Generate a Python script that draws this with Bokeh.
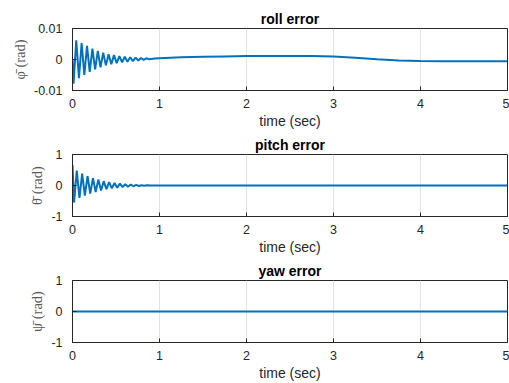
from bokeh.plotting import figure
from bokeh.layouts import column
from bokeh.models import FixedTicker, Range1d
from bokeh.embed import file_html
from bokeh.resources import INLINE

# ---- data ----
roll_t = [0.0, 0.012, 0.043, 0.074, 0.105, 0.136, 0.167, 0.198, 0.229, 0.260, 0.291,
          0.322, 0.353, 0.384, 0.415, 0.446, 0.477, 0.508, 0.539, 0.570, 0.601,
          0.632, 0.663, 0.694, 0.725, 0.756, 0.787, 0.818, 0.849, 0.880,
          0.95, 1.0, 1.25, 1.5, 1.75, 2.0, 2.25, 2.5, 2.75, 3.0, 3.25, 3.5,
          3.75, 4.0, 4.25, 4.5, 4.75, 5.0]
roll_v = [0.0, -0.0078, 0.0062, -0.0060, 0.0053, -0.0050, 0.0044, -0.0040, 0.0035,
          -0.0032, 0.0028, -0.0025, 0.0022, -0.0019, 0.0017, -0.0015, 0.0014,
          -0.0012, 0.0011, -0.0009, 0.0009, -0.0007, 0.0007, -0.0005, 0.0006,
          -0.0003, 0.0005, -0.0001, 0.0004, 0.0001,
          0.0003, 0.0004, 0.0007, 0.0009, 0.0010, 0.0011, 0.00115, 0.0011,
          0.0011, 0.0010, 0.0006, 0.0001, -0.0003, -0.0005, -0.00058,
          -0.0006, -0.0006, -0.0006]

pitch_t = [0.0, 0.018, 0.049, 0.080, 0.111, 0.142, 0.173, 0.204, 0.235, 0.266,
           0.297, 0.328, 0.359, 0.390, 0.421, 0.452, 0.483, 0.514, 0.545, 0.576,
           0.607, 0.638, 0.669, 0.700, 0.731, 0.762, 0.793, 0.824, 0.855, 0.90,
           5.0]
pitch_v = [0.66, -0.55, 0.48, -0.40, 0.38, -0.33, 0.30, -0.26, 0.24, -0.21, 0.19,
           -0.16, 0.14, -0.12, 0.11, -0.09, 0.08, -0.07, 0.06, -0.05, 0.045,
           -0.04, 0.03, -0.025, 0.02, -0.015, 0.01, -0.008, 0.005, 0.0, 0.0]

yaw_t = [0.0, 5.0]
yaw_v = [0.0, 0.0]

x_ticks = [0, 1, 2, 3, 4, 5]
titles = ["roll error", "pitch error", "yaw error"]
ylabels = ["\u03c6\u0304 (rad)", "\u03b8\u0304 (rad)", "\u03c8\u0304 (rad)"]
y_limits = [(-0.01, 0.01), (-1, 1), (-1, 1)]
y_tick_labels = [["-0.01", "0", "0.01"], ["-1", "0", "1"], ["-1", "0", "1"]]
series = [(roll_t, roll_v), (pitch_t, pitch_v), (yaw_t, yaw_v)]

LINE = "#0072BD"
AX = "#262626"
FONT = "Liberation Sans"

# (top border, bottom border) per panel; frame is 62 px tall
borders = [(28, 42), (22, 42), (22, 41)]


def make_panel(i):
    lo, hi = y_limits[i]
    yt = [lo, 0, hi]
    top, bot = borders[i]
    p = figure(width=509, height=top + 62 + bot,
               frame_width=435, frame_height=62,
               x_range=Range1d(0, 5), y_range=Range1d(lo, hi),
               output_backend="svg", toolbar_location=None,
               min_border_left=72, min_border_right=2,
               min_border_top=top, min_border_bottom=bot)
    p.title.text = titles[i]
    p.title.align = "center"
    p.title.text_font = FONT
    p.title.text_font_size = "14px"
    p.title.text_font_style = "bold"
    p.title.text_color = "black"
    p.title.standoff = 3

    t, v = series[i]
    p.line(t, v, line_color=LINE, line_width=2)

    p.xaxis.ticker = FixedTicker(ticks=x_ticks)
    p.xaxis.axis_label = "time (sec)"
    p.yaxis.ticker = FixedTicker(ticks=yt)
    p.yaxis.major_label_overrides = {yt[k]: y_tick_labels[i][k] for k in range(3)}
    p.yaxis.axis_label = ylabels[i]
    for ax in p.xaxis + p.yaxis:
        ax.major_tick_in = 4
        ax.major_tick_out = 0
        ax.minor_tick_line_color = None
        ax.axis_line_color = AX
        ax.major_tick_line_color = AX
        ax.major_label_text_font = FONT
        ax.major_label_text_font_size = "12.5px"
        ax.major_label_text_color = AX
        ax.axis_label_text_font_style = "normal"
    p.xaxis.major_label_standoff = 8
    p.xaxis.axis_label_text_font = FONT
    p.xaxis.axis_label_text_font_size = "14px"
    p.xaxis.axis_label_text_color = AX
    p.xaxis.axis_label_standoff = 2
    p.yaxis.major_label_standoff = 10
    p.yaxis.axis_label_text_font = "Liberation Serif"
    p.yaxis.axis_label_text_font_size = "14.5px"
    p.yaxis.axis_label_text_color = "#5a5a5a"
    p.yaxis.axis_label_standoff = 3

    p.xgrid.grid_line_color = "#e3e3e3"
    p.ygrid.grid_line_color = None
    p.outline_line_color = AX
    p.outline_line_alpha = 1.0
    p.background_fill_color = "white"
    p.border_fill_color = "white"
    return p


panels = [make_panel(0), make_panel(1), make_panel(2)]
layout = column(*panels, spacing=0)

open("out.html", "w").write(file_html(layout, INLINE))
